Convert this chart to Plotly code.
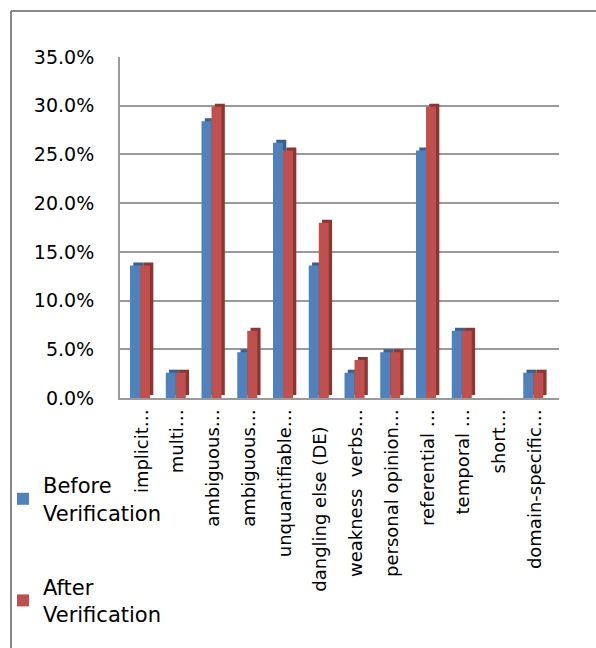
import plotly.graph_objects as go

categories = ["implicit…", "multi…", "ambiguous…", "ambiguous…", "unquantifiable…",
              "dangling else (DE)\u00a0\u00a0\u00a0", "weakness  verbs…", "personal opinion…",
              "referential …", "temporal …", "short…", "domain-specific…"]
before = [13.6, 2.6, 28.4, 4.7, 26.2, 13.6, 2.6, 4.7, 25.4, 6.9, 0.0, 2.6]
after = [13.6, 2.6, 29.9, 6.9, 25.4, 18.0, 3.9, 4.7, 29.9, 6.9, 0.0, 2.6]
series_names = ["Before<br>Verification", "After<br>Verification"]

W, H = 596, 648
# plot area in pixels
PX0, PX1 = 120, 559
PY_TOP, PY_BOT = 57, 398

blue, blue_side = "#4F81BD", "#38618F"
red, red_side = "#C0504D", "#8C3533"

n = len(categories)
xs = list(range(n))
cat_px = 35.75
depth_x = 3.3 / cat_px
depth_y = 3.0 * 35 / (PY_BOT - PY_TOP)
bar_w = 10.0 / cat_px

fig = go.Figure()
specs = [(before, blue, blue_side, -0.327, series_names[0], "g1"),
         (after, red, red_side, -0.047, series_names[1], "g2")]
for vals, col, side, off, name, grp in specs:
    fig.add_trace(go.Bar(x=xs, y=vals, base=depth_y, offset=off + depth_x, width=bar_w,
                         marker=dict(color=side, line=dict(width=0)),
                         showlegend=False, hoverinfo="skip", legendgroup=grp))
    fig.add_trace(go.Bar(x=xs, y=vals, offset=off, width=bar_w, name=name,
                         marker=dict(color=col, line=dict(width=0)), legendgroup=grp))

fig.update_layout(
    width=W, height=H,
    margin=dict(l=PX0, r=W - PX1, t=PY_TOP, b=H - PY_BOT, autoexpand=False),
    paper_bgcolor="white", plot_bgcolor="white",
    barmode="overlay",
    font=dict(family="DejaVu Sans", size=18, color="#000000"),
    legend=dict(xref="container", yref="container", x=0.005, y=1 - 465 / H,
                xanchor="left", yanchor="top", tracegroupgap=44,
                font=dict(size=21), itemwidth=30, bgcolor="rgba(0,0,0,0)"),
)
span = (PX1 - PX0) / cat_px
x0 = -(141.7 - PX0) / cat_px
fig.update_xaxes(range=[x0, x0 + span], tickmode="array", tickvals=xs, ticktext=categories,
                 tickangle=-90, showgrid=False, showline=True, linecolor="#9a9a9a",
                 linewidth=2, ticks="", ticklabelstandoff=2, automargin=False,
                 tickfont=dict(size=18))
fig.update_yaxes(range=[0, 35], dtick=5, tickformat=".1f", ticksuffix="%",
                 showgrid=True, gridcolor="#9a9a9a", gridwidth=2, showline=True,
                 linecolor="#9a9a9a", linewidth=2, zeroline=False, ticks="",
                 ticklabelstandoff=20, automargin=False, tickfont=dict(size=19))

# outer chart frame (top and left border)
def px_to_paper_x(px):
    return (px - PX0) / (PX1 - PX0)

def px_to_paper_y(py):
    return (PY_BOT - py) / (PY_BOT - PY_TOP)

fig.add_shape(type="line", xref="paper", yref="paper",
              x0=px_to_paper_x(11), x1=px_to_paper_x(W + 5),
              y0=px_to_paper_y(11), y1=px_to_paper_y(11),
              line=dict(color="#888888", width=2))
fig.add_shape(type="line", xref="paper", yref="paper",
              x0=px_to_paper_x(11), x1=px_to_paper_x(11),
              y0=px_to_paper_y(11), y1=px_to_paper_y(H + 5),
              line=dict(color="#888888", width=2))

fig.write_html("out.html")
